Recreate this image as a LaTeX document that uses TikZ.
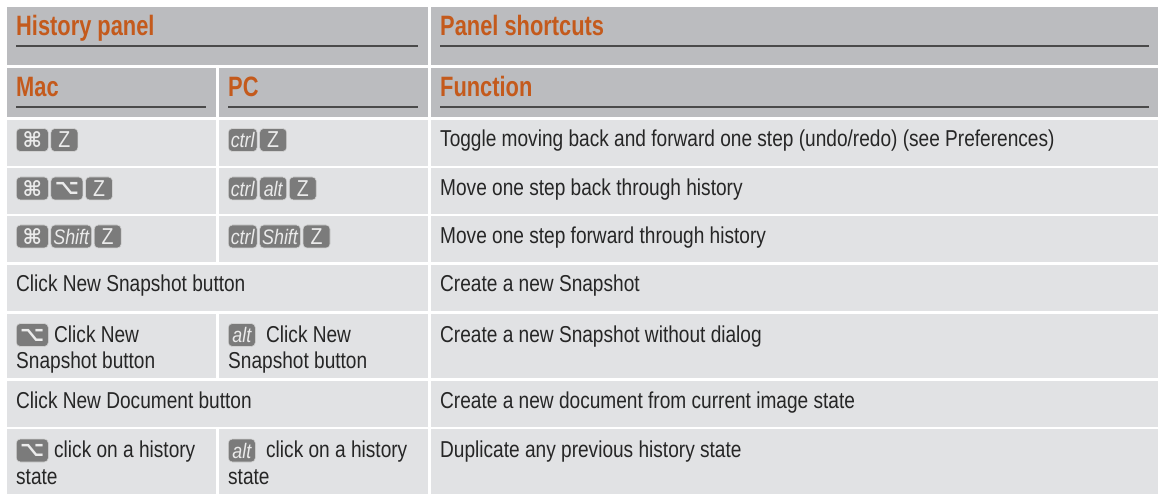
\documentclass[tikz,border=0pt]{standalone}
\usepackage{fontspec}
\usetikzlibrary{positioning}

\setmainfont{Liberation Sans}
\newfontfamily\bodyfont[FakeStretch=0.83]{Liberation Sans}
\newfontfamily\headfont[FakeStretch=0.78]{Liberation Sans}
\newfontfamily\keyfont[FakeStretch=0.85]{Liberation Sans}
\newfontfamily\symfont{DejaVu Sans}

\definecolor{headgray}{HTML}{BBBCBF}
\definecolor{rowgray}{HTML}{E1E2E4}
\definecolor{headorange}{HTML}{C45A1C}
\definecolor{keygray}{HTML}{7B7B7B}
\definecolor{textgray}{HTML}{262626}
\definecolor{rulegray}{HTML}{4A4A4A}

\tikzset{
  headtext/.style={anchor=base west, inner sep=0pt, text=headorange,
    font=\headfont\bfseries\fontsize{28}{32}\selectfont},
  bodytext/.style={anchor=base west, inner sep=0pt, text=textgray,
    font=\bodyfont\fontsize{23}{27}\selectfont},
  keycap/.style={fill=keygray, draw=white!65!keygray, line width=0.6pt,
    rounded corners=4pt, minimum height=23pt, minimum width=27pt,
    inner xsep=2.5pt, inner ysep=0pt, text=white!92!black,
    font=\keyfont\itshape\fontsize{21}{22}\selectfont},
  zkey/.style={keycap, font=\keyfont\fontsize{23}{24}\selectfont},
  symkey/.style={keycap, minimum width=32pt, font=\symfont\bfseries\fontsize{21}{22}\selectfont},
  headrule/.style={draw=rulegray, line width=1.3pt},
}

\begin{document}
\begin{tikzpicture}[x=1pt, y=-1pt]
  \useasboundingbox (0,0) rectangle (1159,494);

  % header cells
  \fill[headgray] (7,7) rectangle (428,65);
  \fill[headgray] (430.5,7) rectangle (1158,65);
  \fill[headgray] (7,68) rectangle (216,117);
  \fill[headgray] (218.5,68) rectangle (428,117);
  \fill[headgray] (430.5,68) rectangle (1158,117);

  % body cells
  \foreach \t/\b in {120/166, 168.5/214, 216.5/262.5, 313.5/378, 429/494} {
    \fill[rowgray] (7,\t) rectangle (216,\b);
    \fill[rowgray] (218.5,\t) rectangle (428,\b);
  }
  \foreach \t/\b in {265/311, 380.5/426.5}
    \fill[rowgray] (7,\t) rectangle (428,\b);
  \foreach \t/\b in {120/166, 168.5/214, 216.5/262.5, 265/311, 313.5/378, 380.5/426.5, 429/494}
    \fill[rowgray] (430.5,\t) rectangle (1158,\b);

  % headings
  \node[headtext] (history) at (16,36) {History panel};
  \node[headtext] (shortcuts) at (440,36) {Panel shortcuts};
  \node[headtext] (mac) at (16,97) {Mac};
  \node[headtext] (pc) at (228,97) {PC};
  \node[headtext] (function) at (440,97) {Function};
  \draw[headrule] (16,46) -- (418,46);
  \draw[headrule] (440,46) -- (1149,46);
  \draw[headrule] (16,107) -- (206,107);
  \draw[headrule] (228,107) -- (418,107);
  \draw[headrule] (440,107) -- (1149,107);

  % row 1
  \node[symkey, anchor=west] (cmdA) at (16,140) {⌘};
  \node[zkey, right=2pt of cmdA] (zA) {Z};
  \node[keycap, anchor=west] (ctrlA) at (228,140) {ctrl};
  \node[zkey, right=2pt of ctrlA] (zA2) {Z};
  \node[bodytext] (toggle) at (440,147) {Toggle moving back and forward one step (undo/redo) (see Preferences)};

  % row 2
  \node[symkey, anchor=west] (cmdB) at (16,188.5) {⌘};
  \node[symkey, right=2pt of cmdB] (optB) {⌥};
  \node[zkey, right=2pt of optB] (zB) {Z};
  \node[keycap, anchor=west] (ctrlB) at (228,188.5) {ctrl};
  \node[keycap, right=2pt of ctrlB] (altB) {alt};
  \node[zkey, right=2pt of altB] (zB2) {Z};
  \node[bodytext] (back) at (440,195.5) {Move one step back through history};

  % row 3
  \node[symkey, anchor=west] (cmdC) at (16,236.5) {⌘};
  \node[keycap, right=2pt of cmdC] (shiftC) {Shift};
  \node[zkey, right=2pt of shiftC] (zC) {Z};
  \node[keycap, anchor=west] (ctrlC) at (228,236.5) {ctrl};
  \node[keycap, right=2pt of ctrlC] (shiftC2) {Shift};
  \node[zkey, right=2pt of shiftC2] (zC2) {Z};
  \node[bodytext] (forward) at (440,243.5) {Move one step forward through history};

  % row 4
  \node[bodytext] (snapbtn) at (16,292) {Click New Snapshot button};
  \node[bodytext] (newsnap) at (440,292) {Create a new Snapshot};

  % row 5
  \node[symkey, anchor=west] (optE) at (16,335) {⌥};
  \node[bodytext] (snapE) at (54,342) {Click New};
  \node[bodytext] (snapE2) at (16,368) {Snapshot button};
  \node[keycap, anchor=west] (altE) at (228,335) {alt};
  \node[bodytext] (snapF) at (266,342) {Click New};
  \node[bodytext] (snapF2) at (228,368) {Snapshot button};
  \node[bodytext] (nodialog) at (440,342) {Create a new Snapshot without dialog};

  % row 6
  \node[bodytext] (docbtn) at (16,408) {Click New Document button};
  \node[bodytext] (newdoc) at (440,408) {Create a new document from current image state};

  % row 7
  \node[symkey, anchor=west] (optG) at (16,450.5) {⌥};
  \node[bodytext] (histG) at (54,457) {click on a history};
  \node[bodytext] (histG2) at (16,484) {state};
  \node[keycap, anchor=west] (altG) at (228,450.5) {alt};
  \node[bodytext] (histH) at (266,457) {click on a history};
  \node[bodytext] (histH2) at (228,484) {state};
  \node[bodytext] (duplicate) at (440,457) {Duplicate any previous history state};
\end{tikzpicture}
\end{document}
